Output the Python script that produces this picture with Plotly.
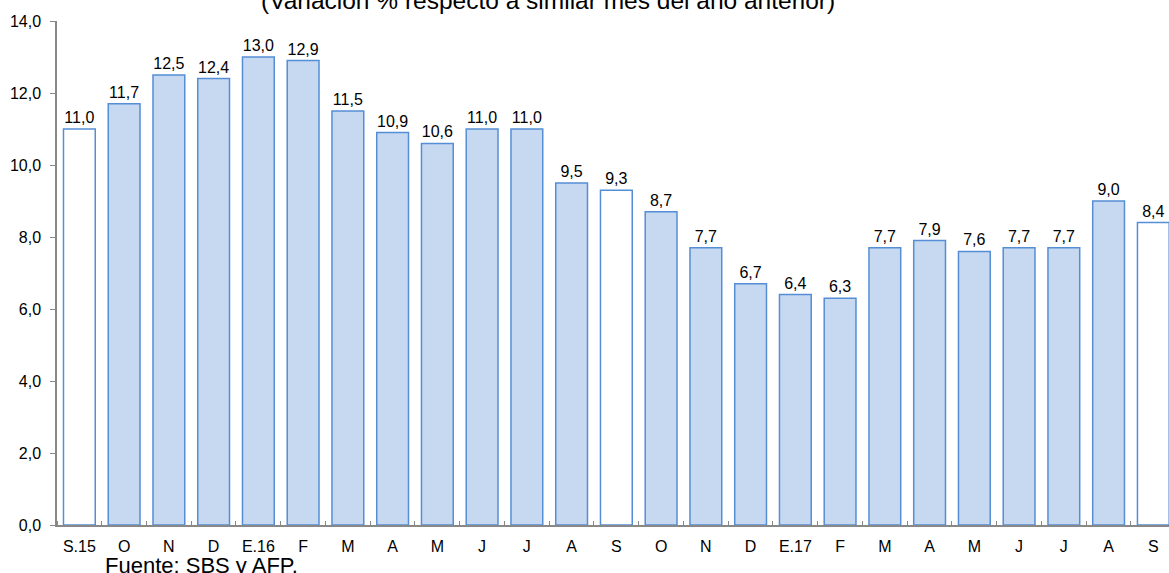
import plotly.graph_objects as go

labels = ["S.15", "O", "N", "D", "E.16", "F", "M", "A", "M", "J", "J", "A", "S",
          "O", "N", "D", "E.17", "F", "M", "A", "M", "J", "J", "A", "S"]
values = [11.0, 11.7, 12.5, 12.4, 13.0, 12.9, 11.5, 10.9, 10.6, 11.0, 11.0, 9.5, 9.3,
          8.7, 7.7, 6.7, 6.4, 6.3, 7.7, 7.9, 7.6, 7.7, 7.7, 9.0, 8.4]
highlight = [0, 12, 24]  # September bars drawn white
y_ticks = [0, 2, 4, 6, 8, 10, 12, 14]

x = list(range(len(labels)))
fill = ["#FFFFFF" if i in highlight else "#C6D9F1" for i in x]

FONT = "Arial, Liberation Sans, sans-serif"

fig = go.Figure(go.Bar(
    x=x, y=values,
    marker=dict(color=fill, line=dict(color="#558ED5", width=1.5)),
    texttemplate="%{y:.1f}", textposition="outside",
    textfont=dict(size=16, color="#000000", family=FONT),
    cliponaxis=False,
))

fig.update_layout(
    width=1169, height=573,
    margin=dict(l=57, r=0, t=21, b=48),
    plot_bgcolor="white", paper_bgcolor="white",
    separators=",.",
    bargap=0.29,
    showlegend=False,
    font=dict(family=FONT, size=16, color="#000000"),
)
fig.update_xaxes(
    range=[-0.5, 24.35],
    tickvals=x, ticktext=labels, ticks="", showgrid=False,
    showline=True, linecolor="#888888", linewidth=1.5,
    tickfont=dict(size=16),
    ticklabelstandoff=6,
    minor=dict(tick0=0.5, dtick=1, ticks="inside", ticklen=4, tickcolor="#888888", showgrid=False),
)
fig.update_yaxes(
    range=[0, 14], tickvals=y_ticks, tickformat=".1f",
    ticks="outside", ticklen=5, tickcolor="#888888",
    showline=True, linecolor="#888888", linewidth=1.5,
    showgrid=False, zeroline=False, tickfont=dict(size=16),
    ticklabelstandoff=6,
)

fig.add_annotation(
    text="(Variación % respecto a similar mes del año anterior)",
    xref="paper", yref="paper", x=(548 - 57) / 1112, y=1, yanchor="middle", xanchor="center",
    yshift=21, showarrow=False, font=dict(size=24.5),
)
fig.add_annotation(
    text="Fuente: SBS y AFP.",
    xref="paper", yref="paper", x=(103 - 57) / 1112, y=0, yanchor="middle", xanchor="left",
    yshift=-40, showarrow=False, font=dict(size=22),
)

fig.write_html("out.html", config={"displayModeBar": False},
               post_script="document.body.style.margin='0';")
